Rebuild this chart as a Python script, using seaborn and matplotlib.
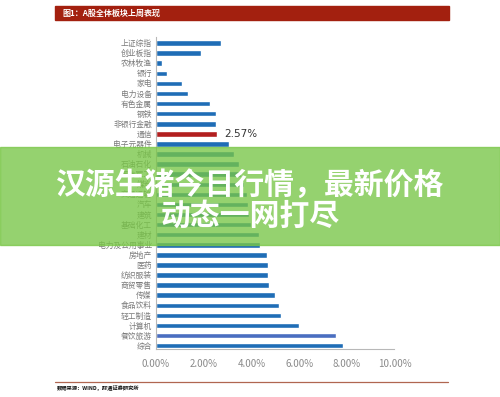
import matplotlib
matplotlib.use("Agg")
import matplotlib.pyplot as plt
import matplotlib.patches as mpatches
import seaborn as sns
import pandas as pd

sectors = ["上证综指", "创业板指", "农林牧渔", "银行", "家电", "电力设备", "有色金属", "钢铁",
           "非银行金融", "通信", "电子元器件", "机械", "石油石化", "国防军工", "煤炭",
           "交通运输", "汽车", "建筑", "基础化工", "建材", "电力及公用事业", "房地产", "医药",
           "纺织服装", "商贸零售", "传媒", "食品饮料", "轻工制造", "计算机", "餐饮旅游", "综合"]
returns = [2.74, 1.89, 0.25, 0.48, 1.10, 1.36, 2.26, 2.50,
           2.50, 2.57, 3.07, 3.27, 3.49, 3.58, 3.68,
           3.80, 3.86, 3.92, 3.98, 4.30, 4.36, 4.67, 4.68,
           4.71, 4.74, 4.98, 5.16, 5.26, 6.01, 7.56, 7.84]
highlight = "通信"
xticks = [0, 2, 4, 6, 8, 10]
title = "图1：A股全体板块上周表现"
source = "数据来源：WIND，财通证券研究所"
banner_lines = ["汉源生猪今日行情，最新价格", "动态一网打尽"]

BLUE = "#1F6DB6"
RED = "#B21F1F"

sns.set_theme(style="white")
plt.rcParams["font.family"] = ["Noto Sans CJK SC", "DejaVu Sans"]

df = pd.DataFrame({"sector": sectors, "ret": returns})
palette = {s: (RED if s == highlight else BLUE) for s in sectors}
palette["餐饮旅游"] = "#4A6EC0"

fig = plt.figure(figsize=(5.0, 3.97), dpi=100)
ax = fig.add_axes([156 / 500, 48 / 397, (394.5 - 156) / 500, 312 / 397])
sns.barplot(data=df, y="sector", x="ret", hue="sector", palette=palette,
            order=sectors, orient="h", width=0.55, legend=False, ax=ax,
            saturation=1)

ax.set_xlim(0, 10)
ax.set_ylim(30.33, -0.6)
ax.set_xticks(xticks)
ax.set_xticklabels([f"{v:.2f}%" for v in xticks], fontsize=7, color="#8a8a8a")
ax.tick_params(axis="x", length=3, direction="in", color="#b0b0b0", pad=7)
ax.tick_params(axis="y", length=0, pad=3, labelsize=5.6, labelcolor="#7a7a7a")
ax.set_xlabel("")
ax.set_ylabel("")
for s in ["top", "right"]:
    ax.spines[s].set_visible(False)
for s in ["left", "bottom"]:
    ax.spines[s].set_color("#b8b8b8")
    ax.spines[s].set_linewidth(0.8)

idx = sectors.index(highlight)
ax.text(returns[idx] + 0.3, idx, f"{returns[idx]:.2f}%", va="center", ha="left",
        fontsize=7.5, color="#333333", family=["DejaVu Sans"])

# title band
fig.patches.append(mpatches.Rectangle((55 / 500, 1 - 20 / 397), (449 - 55) / 500, 14 / 397,
                                      transform=fig.transFigure, color="#A3200F", zorder=0))
fig.text(62 / 500, 1 - 13.5 / 397, title, color="white", fontsize=5.8, fontweight="bold",
         va="center", ha="left")

# source line
fig.add_artist(plt.Line2D([55 / 500, 448 / 500], [1 - 382 / 397, 1 - 382 / 397],
                          transform=fig.transFigure, color="#B06650", linewidth=0.9))
fig.text(57 / 500, 1 - 388.5 / 397, source, color="#111111", fontsize=3.8, fontweight="bold",
         va="center", ha="left")

# green banner
fig.patches.append(mpatches.Rectangle((0, 1 - 245 / 397), 1, (245 - 147) / 397,
                                      transform=fig.transFigure, color="#78C646", alpha=0.78,
                                      zorder=10))
fig.text(0.5, 1 - 185 / 397, banner_lines[0], color="white", fontsize=21.5, fontweight="bold",
         va="center", ha="center", zorder=11)
fig.text(0.5, 1 - 216 / 397, banner_lines[1], color="white", fontsize=21.5, fontweight="bold",
         va="center", ha="center", zorder=11)

fig.savefig("out.png", dpi=100)
